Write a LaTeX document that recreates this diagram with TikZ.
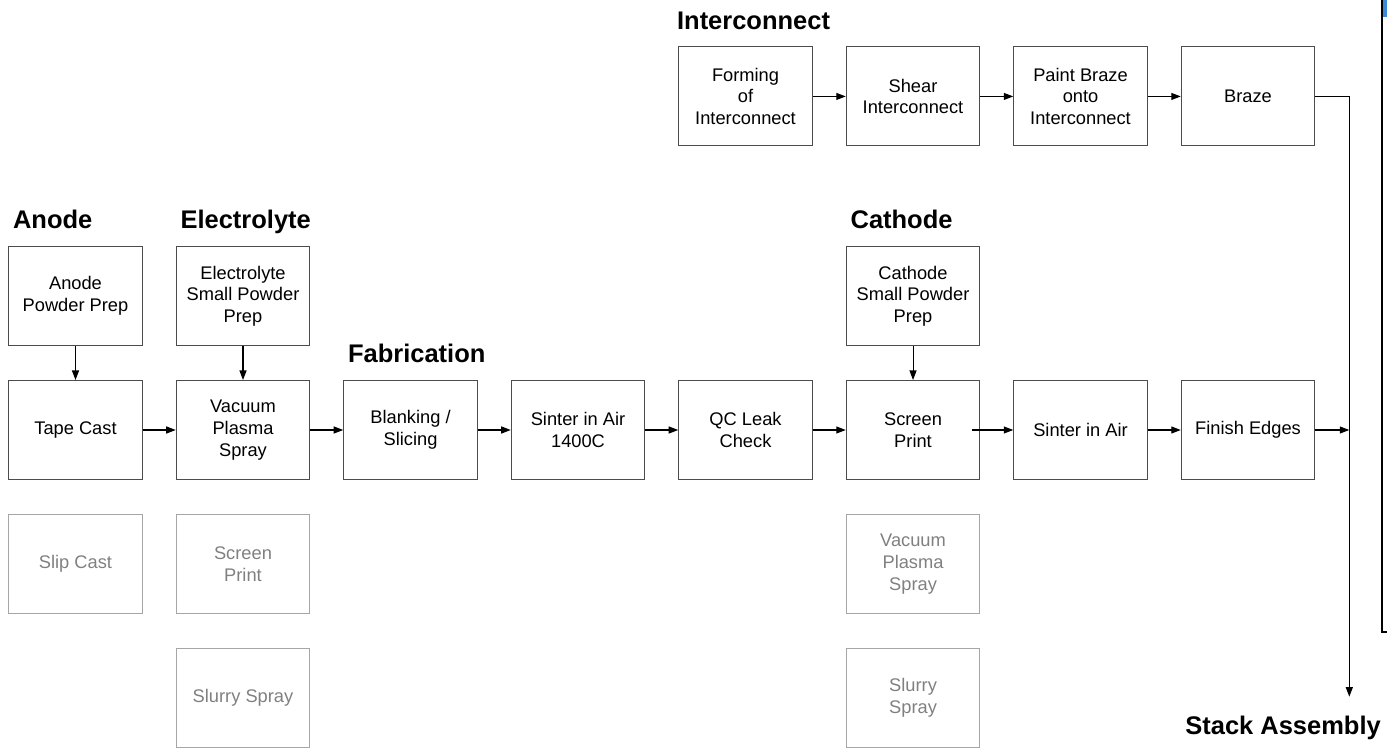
\documentclass[tikz,border=0pt]{standalone}
\usepackage{fontspec}
\setmainfont{Liberation Sans}
\usetikzlibrary{arrows.meta,positioning}

\definecolor{edgeblue}{RGB}{58,140,218}
\tikzset{
  stepbox/.style={draw=black!70, line width=0.6pt, minimum width=2.67cm, minimum height=1.98cm,
    inner sep=0pt, align=center, font=\fontsize{10.4}{12.3}\selectfont},
  altbox/.style={stepbox, draw=black!35, text=black!50},
  heading/.style={anchor=base west, inner sep=0pt, font=\fontsize{14.5}{17}\selectfont\bfseries},
  flow/.style={-{Triangle[length=1.9mm,width=1.4mm]}, line width=0.6pt},
}

\begin{document}
\begin{tikzpicture}[node distance=0.679cm and 0.659cm]
\useasboundingbox (0,0) rectangle (27.74,-14.96);
\clip (0,0) rectangle (27.74,-14.96);

% main fabrication line
\node[stepbox] (tape) at (1.51,-8.6) {Tape Cast};
\node[stepbox, right=of tape] (vps) {Vacuum\\Plasma\\Spray};
\node[stepbox, right=of vps] (blank) {Blanking /\\Slicing};
\node[stepbox, right=of blank] (sinterhi) {Sinter in Air\\1400C};
\node[stepbox, right=of sinterhi] (qc) {QC Leak\\Check};
\node[stepbox, right=of qc] (screen) {Screen\\Print};
\node[stepbox, right=of screen] (sinter) {Sinter in Air};
\node[stepbox, right=of sinter] (fin) {Finish Edges};

% powder prep
\node[stepbox, above=of tape] (apow) {Anode\\Powder Prep};
\node[stepbox, above=of vps] (epow) {Electrolyte\\Small Powder\\Prep};
\node[stepbox, above=of screen] (cpow) {Cathode\\Small Powder\\Prep};

% alternatives
\node[altbox, below=of tape] (slip) {Slip Cast};
\node[altbox, below=of vps] (escreen) {Screen\\Print};
\node[altbox, below=of escreen] (eslurry) {Slurry Spray};
\node[altbox, below=of screen] (cvps) {Vacuum\\Plasma\\Spray};
\node[altbox, below=of cvps] (cslurry) {Slurry\\Spray};

% interconnect line
\node[stepbox, above=4.67cm of qc] (form) {Forming\\of\\Interconnect};
\node[stepbox, right=of form] (shear) {Shear\\Interconnect};
\node[stepbox, right=of shear] (paint) {Paint Braze\\onto\\Interconnect};
\node[stepbox, right=of paint] (braze) {Braze};

% headings
\node[heading] (hanode) at ([shift={(0.09,0.35)}]apow.north west) {Anode};
\node[heading] (helec) at ([shift={(0.09,0.35)}]epow.north west) {Electrolyte};
\node[heading] (hfab) at ([shift={(0.09,0.34)}]blank.north west) {Fabrication};
\node[heading] (hcath) at ([shift={(0.09,0.35)}]cpow.north west) {Cathode};
\node[heading] (hinter) at ([shift={(-0.03,0.34)}]form.north west) {Interconnect};
\node[heading] (stack) at (23.7,-14.68) {Stack Assembly};

% connectors
\foreach \a/\b in {tape/vps, vps/blank, blank/sinterhi, sinterhi/qc, qc/screen,
                   sinter/fin, form/shear, shear/paint, paint/braze}
  \draw[flow] (\a) -- (\b);
\draw[flow] ([xshift=-0.17cm]screen.east) -- (sinter.west);
\foreach \a/\b in {apow/tape, epow/vps, cpow/screen}
  \draw[flow] (\a) -- (\b);

\coordinate (bus) at ([xshift=0.68cm]fin.east);
\draw[flow] (fin.east) -- (bus);
\draw[flow] (braze.east) -| ([yshift=0.37cm]bus |- stack.north);

% window edge at the right border
\fill[edgeblue] (27.66,0.1) rectangle (27.8,-0.34);
\draw[line width=0.04cm] (27.64,0.1) -- (27.64,-12.64) -- (27.8,-12.64);
\end{tikzpicture}
\end{document}
